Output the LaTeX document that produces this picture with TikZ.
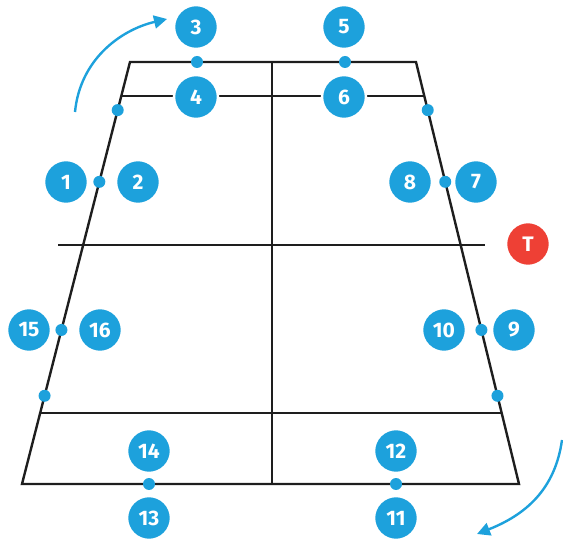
\documentclass[tikz,border=0pt]{standalone}
\usepackage{fontspec}
\setsansfont{Fira Sans}
\usetikzlibrary{arrows.meta,calc}
\definecolor{posblue}{HTML}{1DA1DC}
\definecolor{posred}{HTML}{EE4035}
\definecolor{lineblk}{HTML}{1E1E1E}
\tikzset{
  num/.style   = {circle, fill=posblue, draw=white, line width=2.5pt,
                  minimum size=44pt, inner sep=0pt, text=white,
                  font=\sffamily\bfseries\fontsize{21}{21}\selectfont},
  numred/.style= {num, fill=posred},
  dot/.style   = {circle, fill=posblue, minimum size=12pt, inner sep=0pt},
  court/.style = {draw=lineblk, line width=2.4pt},
  turn/.style  = {draw=posblue, line width=2.4pt,
                  -{Triangle[length=13pt, width=13pt]}},
}
\begin{document}
\begin{tikzpicture}[x=1pt,y=-1pt]
  \useasboundingbox (0,0) rectangle (563,540);
  % outline
  \coordinate (tl) at (130,62);
  \coordinate (tr) at (416,62);
  \coordinate (bl) at (22,484);
  \coordinate (br) at (519,484);
  \draw[court, line join=miter] (tl) -- (bl) -- (br) -- (tr) -- cycle;
  \draw[court] ($(tl)!0.0806!(bl)$) -- ($(tr)!0.0806!(br)$);
  \draw[court] ($(tl)!0.832!(bl)$) -- ($(tr)!0.832!(br)$);
  \draw[court] (58,245) -- (485,245);
  \draw[court] (272,62) -- (272,484);
  % positions on the lines
  \node[dot] (d3)  at (197,62) {};
  \node[dot] (d5)  at (345,62) {};
  \node[dot] (d13) at (149,484) {};
  \node[dot] (d11) at (396,484) {};
  \node[dot] (dl1) at ($(tl)!0.114!(bl)$) {};
  \node[dot] (dl2) at ($(tl)!0.284!(bl)$) {};
  \node[dot] (dl3) at ($(tl)!0.635!(bl)$) {};
  \node[dot] (dl4) at ($(tl)!0.791!(bl)$) {};
  \node[dot] (dr1) at ($(tr)!0.114!(br)$) {};
  \node[dot] (dr2) at ($(tr)!0.284!(br)$) {};
  \node[dot] (dr3) at ($(tr)!0.635!(br)$) {};
  \node[dot] (dr4) at ($(tr)!0.791!(br)$) {};
  % numbers
  \node[num] (n3)  at (196,27)  {3};
  \node[num] (n5)  at (344,27)  {5};
  \node[num] (n4)  at (196,97)  {4};
  \node[num] (n6)  at (344,97)  {6};
  \node[num] (n1)  at (66,182)  {1};
  \node[num] (n2)  at (138,182) {2};
  \node[num] (n8)  at (410,182) {8};
  \node[num] (n7)  at (476,182) {7};
  \node[num] (n15) at (29,330)  {15};
  \node[num] (n16) at (100,330) {16};
  \node[num] (n10) at (444,330) {10};
  \node[num] (n9)  at (514,330) {9};
  \node[num] (n14) at (149,451) {14};
  \node[num] (n12) at (396,451) {12};
  \node[num] (n13) at (149,518) {13};
  \node[num] (n11) at (396,518) {11};
  \node[numred] (nT) at (528,244) {T};
  % rotation
  \coordinate (ra) at (75,112);
  \coordinate (rb) at (167,19);
  \coordinate (rc) at (562,440);
  \coordinate (rd) at (477,534);
  \draw[turn] (ra) .. controls (80,60) and (120,30) .. (rb);
  \draw[turn] (rc) .. controls (555,490) and (525,515) .. (rd);
\end{tikzpicture}
\end{document}
